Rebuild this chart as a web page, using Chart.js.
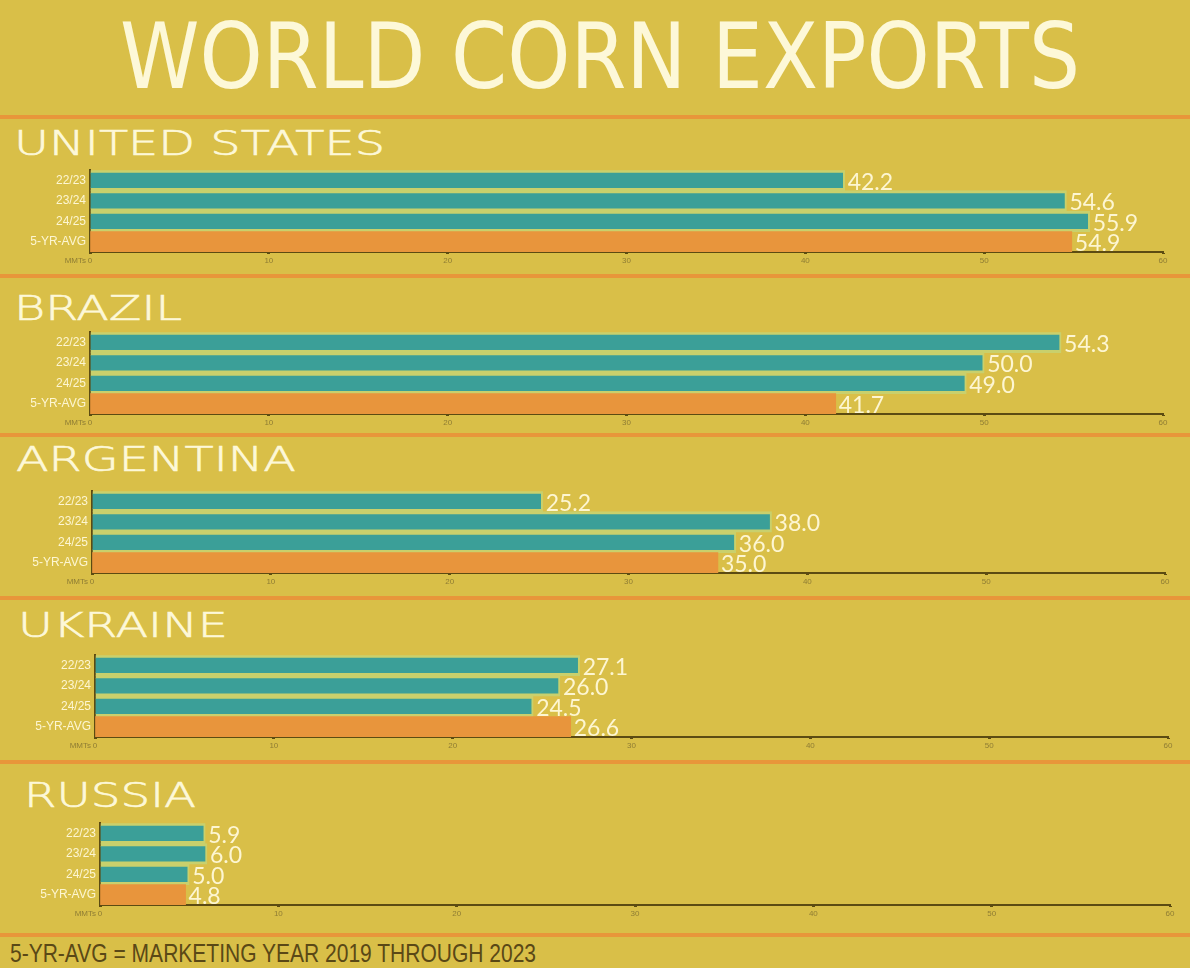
<!DOCTYPE html>
<html>
<head>
<meta charset="utf-8">
<script src="https://cdn.jsdelivr.net/npm/chart.js@4.4.1/dist/chart.umd.min.js"></script>
<style>
  body { margin: 0; background: #d9bf48; }
  #page { position: relative; width: 1190px; height: 968px; overflow: hidden; background: #d9bf48; }
  .txt { position: absolute; white-space: nowrap; line-height: 1; transform-origin: left top; }
  .title { font-family: 'DejaVu Sans', sans-serif; font-weight: 400; color: #fdf8d8; }
  .name { font-family: 'DejaVu Sans', sans-serif; font-weight: 200; color: #fdf8d8; -webkit-text-stroke: 0.6px #fdf8d8; }
  .sep { position: absolute; left: 0; width: 1190px; height: 4px; background: #e8963a; }
  .panel { position: absolute; left: 0; }
  .footer { font-family: 'Liberation Sans Narrow', 'Liberation Sans', sans-serif; color: #5a4816; }
</style>
</head>
<body>
<div id="page"></div>
<script>
// chart data
const seasons = ['22/23', '23/24', '24/25', '5-YR-AVG'];
const countries = ['UNITED STATES', 'BRAZIL', 'ARGENTINA', 'UKRAINE', 'RUSSIA'];
const usExports = [42.2, 54.6, 55.9, 54.9];
const brazilExports = [54.3, 50.0, 49.0, 41.7];
const argentinaExports = [25.2, 38.0, 36.0, 35.0];
const ukraineExports = [27.1, 26.0, 24.5, 26.6];
const russiaExports = [5.9, 6.0, 5.0, 4.8];
const xTicks = [0, 10, 20, 30, 40, 50, 60];
const unitLabel = 'MMTs';
const mainTitle = 'WORLD CORN EXPORTS';
const footNote = '5-YR-AVG = MARKETING YEAR 2019 THROUGH 2023';

const allExports = [usExports, brazilExports, argentinaExports, ukraineExports, russiaExports];

// layout of each panel (page coords)
const panelLayout = [
  { nameTop: 127, nameLeft: 14, nameWidth: 371, chartTop: 170, axisLeft: 90, axisRight: 1163 },
  { nameTop: 292, nameLeft: 14, nameWidth: 168, chartTop: 332, axisLeft: 90, axisRight: 1163 },
  { nameTop: 443, nameLeft: 16, nameWidth: 280, chartTop: 491, axisLeft: 92, axisRight: 1165 },
  { nameTop: 609, nameLeft: 18, nameWidth: 210, chartTop: 655, axisLeft: 95, axisRight: 1168 },
  { nameTop: 779, nameLeft: 24, nameWidth: 172, chartTop: 823, axisLeft: 100, axisRight: 1170 }
];
const separators = [117, 276, 435, 598, 762, 935];
const plotHeight = 82;
const xAxisHeight = 16;

const TEAL = '#3b9f98';
const ORANGE = '#e8953c';
const PALE = '#c9d06c';
const CREAM = '#fdf6d2';
const DARK = '#5c4b12';

const page = document.getElementById('page');

function addText(cls, text, left, top, size, width) {
  const el = document.createElement('div');
  el.className = 'txt ' + cls;
  el.textContent = text;
  el.style.left = left + 'px';
  el.style.top = top + 'px';
  el.style.fontSize = size + 'px';
  page.appendChild(el);
  if (width) {
    const w = el.getBoundingClientRect().width;
    el.style.transform = `scaleX(${width / w})`;
  }
  return el;
}

separators.forEach(y => {
  const s = document.createElement('div');
  s.className = 'sep';
  s.style.top = (y - 2) + 'px';
  page.appendChild(s);
});

addText('title', mainTitle, 120, 12, 90, 960);
addText('footer', footNote, 10, 941, 25, 526);

// value labels at bar ends
const valueLabels = {
  id: 'valueLabels',
  afterDatasetsDraw(chart) {
    const ctx = chart.ctx;
    const meta = chart.getDatasetMeta(0);
    const data = chart.data.datasets[0].data;
    ctx.save();
    ctx.font = '23px Lato, "Open Sans", sans-serif';
    ctx.fillStyle = CREAM;
    ctx.textAlign = 'left';
    ctx.textBaseline = 'middle';
    meta.data.forEach((bar, i) => {
      ctx.fillText(data[i].toFixed(1), bar.x + 3, bar.y + 2);
    });
    ctx.restore();
  }
};

// unit label left of the zero tick
const unitText = {
  id: 'unitText',
  afterDraw(chart) {
    const ctx = chart.ctx;
    const xs = chart.scales.x;
    ctx.save();
    ctx.font = '8px "Liberation Sans Narrow", "Liberation Sans", sans-serif';
    ctx.fillStyle = '#8f7d34';
    ctx.textAlign = 'right';
    ctx.textBaseline = 'top';
    ctx.fillText(unitLabel, xs.left - 4, xs.top + 5);
    ctx.restore();
  }
};

function makeChart(canvas, values, lay) {
  return new Chart(canvas.getContext('2d'), {
    type: 'bar',
    data: {
      labels: seasons,
      datasets: [{
        data: values,
        backgroundColor: values.map((v, i) => i === seasons.length - 1 ? ORANGE : TEAL),
        borderColor: values.map((v, i) => i === seasons.length - 1 ? ORANGE : PALE),
        borderWidth: values.map((v, i) => i === seasons.length - 1 ? 0 : { top: 3, bottom: 3, right: 2, left: 0 }),
        borderSkipped: false,
        barPercentage: 1,
        categoryPercentage: 1
      }]
    },
    options: {
      indexAxis: 'y',
      responsive: false,
      animation: false,
      layout: { padding: { top: 0, right: 1190 - lay.axisRight, left: 0, bottom: 0 } },
      plugins: { legend: { display: false }, tooltip: { enabled: false } },
      scales: {
        x: {
          min: 0,
          max: 60,
          afterBuildTicks: scale => { scale.ticks = xTicks.map(v => ({ value: v })); },
          afterFit: scale => { scale.height = xAxisHeight; },
          grid: { drawOnChartArea: false, drawTicks: true, tickLength: 2, tickWidth: 3, color: DARK },
          border: { display: true, color: DARK, width: 2 },
          ticks: {
            font: { size: 8, family: '"Liberation Sans Narrow", "Liberation Sans", sans-serif' },
            color: '#8f7d34',
            padding: 2,
            maxRotation: 0
          }
        },
        y: {
          afterFit: scale => { scale.width = lay.axisLeft; },
          grid: { display: false, drawTicks: false },
          border: { display: true, color: DARK, width: 2 },
          ticks: {
            font: { size: 12, family: '"Liberation Sans Narrow", "Liberation Sans", sans-serif' },
            color: CREAM,
            padding: 4
          }
        }
      }
    },
    plugins: [valueLabels, unitText]
  });
}

countries.forEach((name, p) => {
  const lay = panelLayout[p];
  addText('name', name, lay.nameLeft, lay.nameTop, 33, lay.nameWidth);

  const canvas = document.createElement('canvas');
  canvas.width = 1190;
  canvas.height = plotHeight + xAxisHeight;
  canvas.className = 'panel';
  page.appendChild(canvas);

  const values = allExports[p];
  let chart = makeChart(canvas, values, lay);

  // the scales keep some top padding: rebuild with a taller canvas so the plot keeps its height
  const extra = Math.round(chart.chartArea.top);
  if (extra > 0) {
    chart.destroy();
    canvas.width = 1190;
    canvas.height = plotHeight + xAxisHeight + extra;
    chart = makeChart(canvas, values, lay);
  }
  canvas.style.top = (lay.chartTop - chart.chartArea.top) + 'px';
});
</script>
</body>
</html>
